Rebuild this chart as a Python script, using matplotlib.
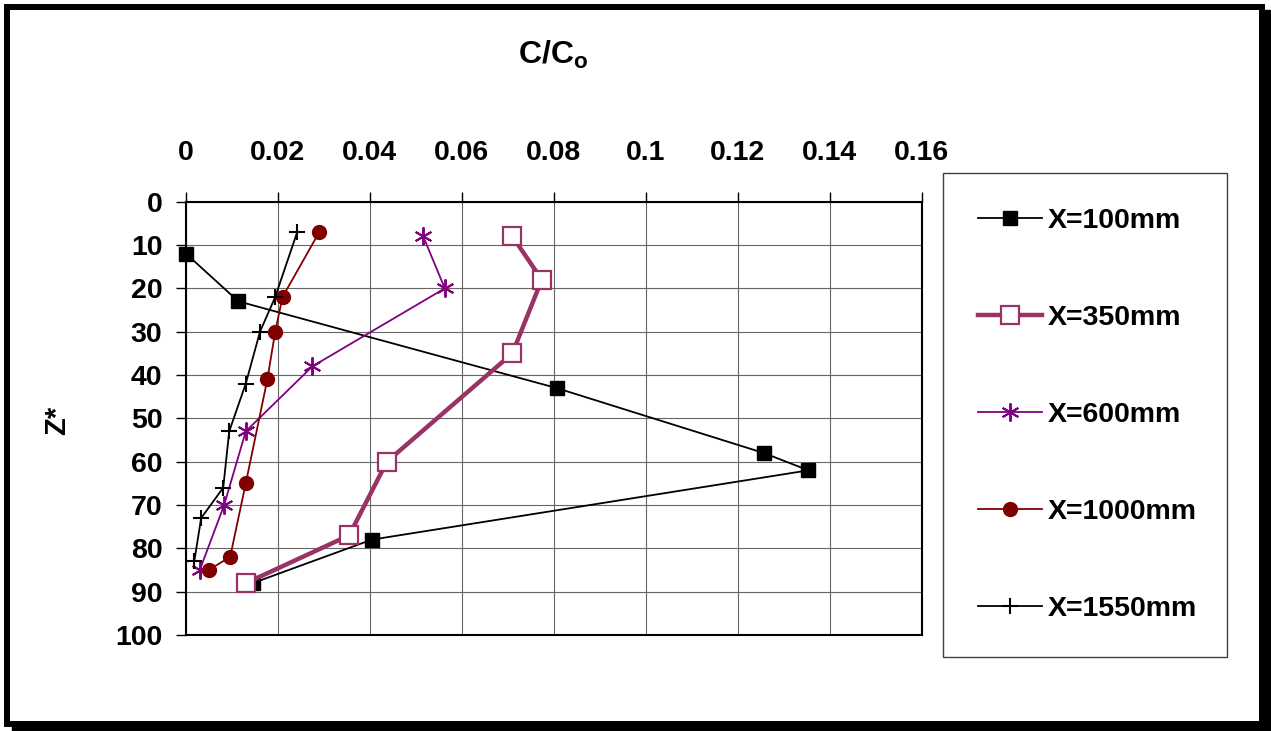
import matplotlib.pyplot as plt
from matplotlib.patches import Rectangle

plt.rcParams['font.family'] = ['Liberation Sans', 'DejaVu Sans']
plt.rcParams['font.weight'] = 'bold'
plt.rcParams['mathtext.fontset'] = 'custom'
plt.rcParams['mathtext.bf'] = 'Liberation Sans:bold'
plt.rcParams['mathtext.rm'] = 'Liberation Sans:bold'

# depth Z* and concentration C/Co per station
z_100 = [12, 23, 43, 58, 62, 78, 88]
c_100 = [0.0, 0.0114, 0.0806, 0.1257, 0.1354, 0.0404, 0.0146]

z_350 = [8, 18, 35, 60, 77, 88]
c_350 = [0.0710, 0.0774, 0.0710, 0.0437, 0.0355, 0.0131]

z_600 = [8, 20, 38, 53, 70, 85]
c_600 = [0.0516, 0.0563, 0.0275, 0.0130, 0.0083, 0.0030]

z_1000 = [7, 22, 30, 41, 65, 82, 85]
c_1000 = [0.0290, 0.0210, 0.0194, 0.0177, 0.0130, 0.0096, 0.0049]

z_1550 = [7, 22, 30, 42, 53, 66, 73, 83]
c_1550 = [0.0242, 0.0194, 0.0161, 0.0130, 0.0094, 0.0081, 0.0033, 0.0018]

x_ticks = [0, 0.02, 0.04, 0.06, 0.08, 0.1, 0.12, 0.14, 0.16]
x_labels = ['0', '0.02', '0.04', '0.06', '0.08', '0.1', '0.12', '0.14', '0.16']
y_ticks = [0, 10, 20, 30, 40, 50, 60, 70, 80, 90, 100]

W, H = 1271, 731
fig = plt.figure(figsize=(W / 100, H / 100), dpi=100)
ax = fig.add_axes([186 / W, 1 - 635 / H, (921.5 - 186) / W, (635 - 201.7) / H])

ax.plot(c_100, z_100, color='black', lw=1.3, marker='s', ms=10,
        mfc='black', mec='black', label='X=100mm', clip_on=False)
ax.plot(c_350, z_350, color='#993366', lw=3.2, marker='s', ms=13.5,
        mfc='white', mec='#993366', mew=1.6, label='X=350mm', clip_on=False)
ax.plot(c_600, z_600, color='#800080', lw=1.3, marker=(6, 2, 0), ms=13,
        mec='#800080', mew=1.4, label='X=600mm', clip_on=False)
ax.plot(c_1000, z_1000, color='#800000', lw=1.3, marker='o', ms=10,
        mfc='#800000', mec='#800000', label='X=1000mm', clip_on=False)
ax.plot(c_1550, z_1550, color='black', lw=1.3, marker='+', ms=12,
        mew=1.5, label='X=1550mm', clip_on=False)

ax.set_xlim(0, 0.16)
ax.set_ylim(100, 0)
ax.set_xticks(x_ticks)
ax.set_xticklabels(x_labels)
ax.set_yticks(y_ticks)
ax.xaxis.tick_top()
ax.tick_params(axis='both', direction='out', length=7, width=1, labelsize=20.5)
ax.tick_params(axis='x', pad=19)
ax.tick_params(axis='y', pad=10)
for lab in ax.get_xticklabels() + ax.get_yticklabels():
    lab.set_fontweight('bold')
ax.grid(True, color='0.4', lw=0.8)
for s in ax.spines.values():
    s.set_linewidth(1.5)

fig.text(553 / W, 1 - 55 / H, r'$\mathbf{C/C_o}$', ha='center', va='center',
         fontsize=23)
fig.text(57 / W, 1 - 420 / H, 'Z*', rotation=90, ha='center', va='center',
         fontsize=21, fontweight='bold')

leg = fig.legend(loc='upper left', mode='expand',
                 bbox_to_anchor=(942.7 / W, 1 - 655 / H, 284 / W, (655 - 172.7) / H),
                 borderaxespad=0, fancybox=False, framealpha=1,
                 edgecolor='0.25', fontsize=20.5, borderpad=1.25,
                 labelspacing=2.49, handlelength=2.25, handletextpad=0.2)
leg.get_frame().set_linewidth(1.0)
for t in leg.get_texts():
    t.set_fontweight('bold')

# outer chart frame with shadow
fig.patches.append(Rectangle((7 / W, 1 - 724 / H), 1255 / W, 717 / H,
                             transform=fig.transFigure, fill=False,
                             edgecolor='black', lw=4.3))
fig.patches.append(Rectangle((1262 / W, 0), 8 / W, 1 - 10 / H,
                             transform=fig.transFigure, color='black'))
fig.patches.append(Rectangle((12 / W, 0), 1258 / W, 8 / H,
                             transform=fig.transFigure, color='black'))

fig.savefig('out.png', dpi=100)
